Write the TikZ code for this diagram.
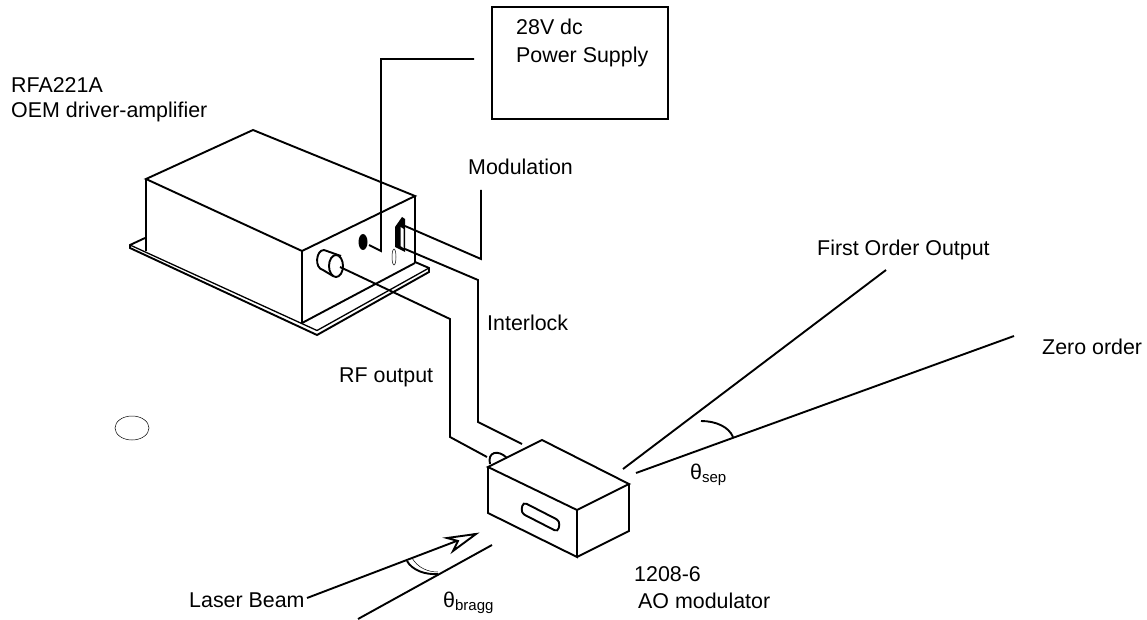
\documentclass[tikz,border=0pt]{standalone}
\usepackage{fontspec}
\setmainfont{Liberation Sans}
\newcommand{\subtxt}[1]{\raisebox{-3pt}{\fontsize{15}{17}\selectfont #1}}
\begin{document}
\begin{tikzpicture}[
  x=1pt, y=-1pt,
  ln/.style={line width=1.9pt, line join=miter},
  thin line/.style={line width=0.5pt},
  lbl/.style={font=\fontsize{21.4}{25}\selectfont, anchor=base west, inner sep=0pt, align=left}
]
\useasboundingbox (0,0) rectangle (1147,620);
% Power supply
\draw[ln] (492,7) rectangle (668,119);
\node[lbl] (psu1) at (516,35) {28V dc};
\node[lbl] (psu2) at (516,63) {Power Supply};
\draw[ln] (369,245) -- (381,251) -- (381,59) -- (474,59);

% RFA driver
\node[lbl] (rfa1) at (11,93) {RFA221A};
\node[lbl] (rfa2) at (11,118) {OEM driver-amplifier};
\draw[ln] (146,179) -- (253,130) -- (415,196) -- (302,251) -- cycle;
\draw[ln] (146,179) -- (146,251);
\draw[ln] (302,251) -- (302,323);
\draw[ln] (415,196) -- (415,263);
\draw[ln] (302,323) -- (415,263);
% flange
\draw[ln] (145,238) -- (130,245) -- (130,248) -- (317,335) -- (429,272) -- (429,268) -- (415,262);
\draw[line width=1.3pt] (130,245) -- (317,330.5) -- (429,268);

% RF connector
\draw[ln] (341,256) -- (324,250) .. controls (316,250) and (314,268) .. (323,270) -- (333,276);
\draw[ln, fill=white] (336,266) ellipse[x radius=7, y radius=11];
\fill (363,242) ellipse[x radius=4.5, y radius=8];
\draw[thin line] (394,257) ellipse[x radius=2, y radius=8];
% interlock socket
\fill (395,227) -- (402,217) -- (405,219) -- (405,252) -- (395,247) -- cycle;
\fill[white] (400.5,227) -- (403.5,229) -- (403.5,248) -- (400.5,246) -- cycle;

% Wires
\draw[ln] (405,226) -- (481,259) -- (481,190);
\draw[ln] (405,249) -- (478,280) -- (478,422) -- (522,444);
\draw[ln] (340,267) -- (450,319) -- (450,437) -- (487,457);
\node[lbl] (modlbl) at (468,175) {Modulation};
\node[lbl] (intlbl) at (487,330) {Interlock};
\node[lbl] (rflbl) at (339,382) {RF output};

\draw[thin line] (132,428) ellipse[x radius=17, y radius=12];

% AO modulator
\draw[ln] (490,464) .. controls (487,452) and (498,449) .. (507,458);
\draw[ln] (488,467) -- (542,440) -- (629,484) -- (577,510) -- cycle;
\draw[ln] (488,467) -- (488,513) -- (577,557) -- (577,510);
\draw[ln] (577,557) -- (629,531) -- (629,484);
\draw[ln, rounded corners=4pt] (523,502) -- (560,521) -- (558,532) -- (521,513) -- cycle;
\node[lbl] (aom1) at (634,581) {1208-6};
\node[lbl] (aom2) at (638,608) {AO modulator};

% Output beams
\draw[ln] (623,469) -- (886,270);
\draw[ln] (636,473) -- (1014,336);
\draw[ln] (701,421) .. controls (716,421) and (729,427) .. (733,437);
\node[lbl] (firstlbl) at (817,255) {First Order Output};
\node[lbl] (zerolbl) at (1042,354) {Zero order};
\node[lbl] (seplbl) at (690,479) {θ\subtxt{sep}};

% Laser beam
\draw[ln] (307,598) -- (475,534);
\draw[ln] (358,619) -- (492,545);
\draw[ln, fill=white] (476,534) -- (447,538) -- (458,541) -- (453,551) -- cycle;
\draw[ln] (407,561) .. controls (412,570) and (425,575) .. (438,574);
\draw[thin line] (412,558) .. controls (418,568) and (428,572) .. (438,572);
\node[lbl] (laserlbl) at (189,607) {Laser Beam};
\node[lbl] (bragglbl) at (443,607) {θ\subtxt{bragg}};
\end{tikzpicture}
\end{document}
